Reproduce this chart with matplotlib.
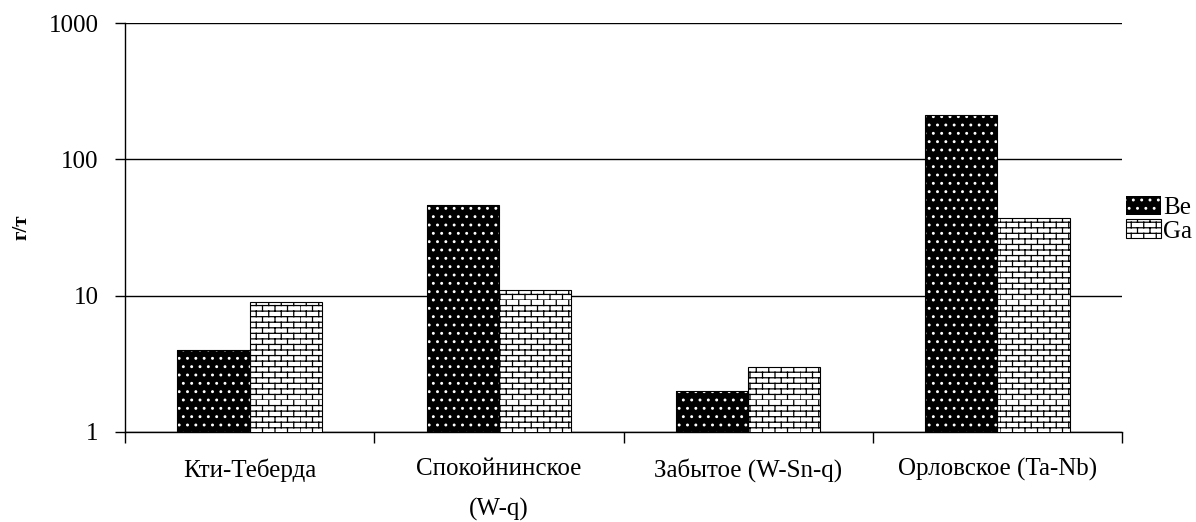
import warnings
import numpy as np
import matplotlib
matplotlib.use("Agg")
import matplotlib.pyplot as plt
import matplotlib.hatch as mhatch
from matplotlib.path import Path

warnings.filterwarnings("ignore")

# ---- data ----
categories = ["Кти-Теберда", "Спокойнинское\n(W-q)", "Забытое (W-Sn-q)", "Орловское (Ta-Nb)"]
be_values = [4, 46, 2, 210]
ga_values = [9, 11, 3, 37]
series_names = ["Be", "Ga"]
y_ticks = [1, 10, 100, 1000]
y_label = "г/т"


# ---- custom brick hatch ----
class BrickHatch(mhatch.HatchPatternBase):
    def __init__(self, hatch, density):
        n = hatch.count('b')
        self.rows = 18 * n
        self.cols = 8 * n
        self.num_vertices = (self.rows + self.rows * self.cols) * 2 if n else 0

    def set_vertices_and_codes(self, vertices, codes):
        R, C = self.rows, self.cols
        k = 0
        for i in range(R):
            y = i / R
            vertices[k] = (0.0, y); codes[k] = Path.MOVETO; k += 1
            vertices[k] = (1.0, y); codes[k] = Path.LINETO; k += 1
        for i in range(R):
            y0, y1 = i / R, (i + 1) / R
            off = 0.5 if i % 2 else 0.0
            for j in range(C):
                x = (j + off) / C
                vertices[k] = (x, y0); codes[k] = Path.MOVETO; k += 1
                vertices[k] = (x, y1); codes[k] = Path.LINETO; k += 1


mhatch._hatch_types.append(BrickHatch)

plt.rcParams['font.family'] = ['Liberation Serif', 'DejaVu Serif']
plt.rcParams['hatch.linewidth'] = 0.9

fig = plt.figure(figsize=(11.96, 5.22), dpi=100)
ax = fig.add_axes([125 / 1196, 90 / 522, 997 / 1196, 409 / 522])

x = np.arange(len(categories))
w = 0.29
ax.bar(x - w / 2, be_values, width=w, color='black', edgecolor='white',
       hatch='..', linewidth=0, label=series_names[0], zorder=3)
ax.bar(x - w / 2, be_values, width=w, facecolor='none', edgecolor='black',
       linewidth=0.8, zorder=4)
ax.bar(x + w / 2, ga_values, width=w, color='white', edgecolor='black',
       hatch='b', linewidth=0.8, label=series_names[1], zorder=3)

ax.set_yscale('log')
ax.set_ylim(1, 1000)
ax.set_xlim(-0.5, len(categories) - 0.5)
ax.set_yticks(y_ticks)
ax.set_yticklabels([str(t) for t in y_ticks])
ax.yaxis.set_minor_locator(matplotlib.ticker.NullLocator())
ax.yaxis.grid(True, which='major', color='black', linewidth=1.0, zorder=0)
ax.set_axisbelow(True)

ax.set_xticks(x)
ax.set_xticklabels(categories, linespacing=2.0)
ax.set_xticks(np.arange(len(categories) + 1) - 0.5, minor=True)
ax.tick_params(axis='x', which='major', length=0, pad=19, labelsize=18)
ax.tick_params(axis='x', which='minor', length=8, width=1, direction='out')
ax.tick_params(axis='y', which='major', length=7, width=1, direction='out', labelsize=18, pad=12)

for s in ['top', 'right']:
    ax.spines[s].set_visible(False)
ax.spines['left'].set_linewidth(1)
ax.spines['bottom'].set_linewidth(1)

ax.set_ylabel(y_label, fontsize=15, fontweight='bold', labelpad=12)

ax.legend(loc='center left', bbox_to_anchor=(1.004, 0.52), frameon=False,
          fontsize=18, handlelength=1.4, handleheight=0.8, handletextpad=0.1,
          labelspacing=0.0, borderaxespad=0, borderpad=0)

fig.savefig('out.png', dpi=100)
